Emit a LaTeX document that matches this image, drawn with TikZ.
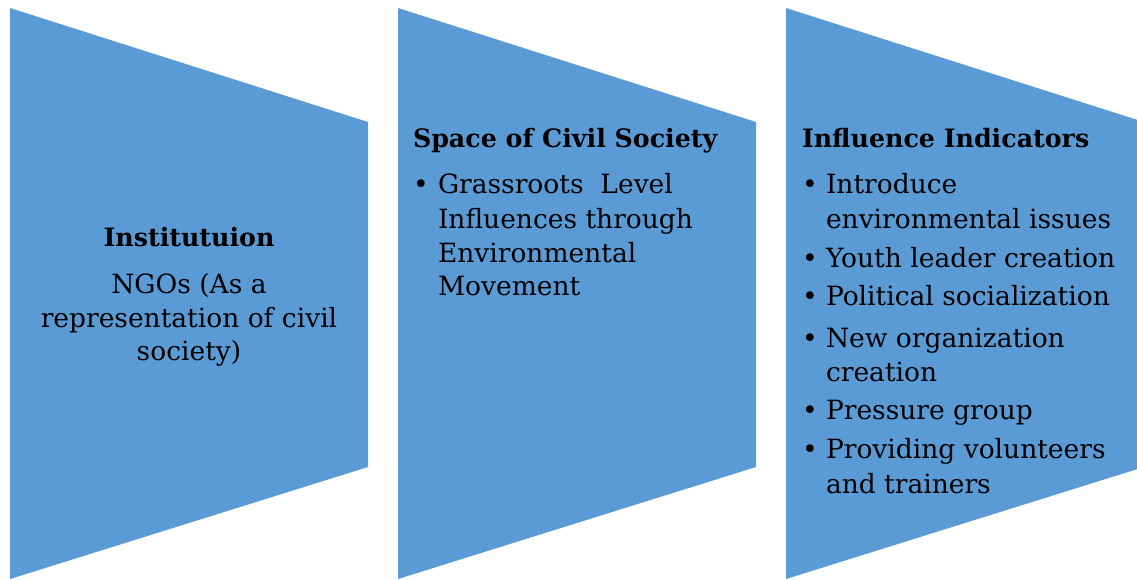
\documentclass[tikz,border=0pt]{standalone}
\usepackage{fontspec}
\setmainfont{DejaVu Serif}
\begin{document}
\begin{tikzpicture}[x=1pt,y=-1pt,
  panel/.style={fill=panelblue,draw=none},
  txt/.style={inner sep=0pt,outer sep=0pt,text=black,font=\fontsize{26.5}{34}\selectfont},
  head/.style={txt,font=\fontsize{25.3}{34}\selectfont\bfseries},
  ln/.style={txt,anchor=base west},
  dot/.style={txt,anchor=base}]
\definecolor{panelblue}{HTML}{5B9BD5}
\useasboundingbox (0,0) rectangle (1137,579);
% three chevron-like panels
\fill[panel] (10,8) -- (368,122) -- (368,467) -- (10,579) -- cycle;
\fill[panel] (398,8) -- (756,122) -- (756,467) -- (398,579) -- cycle;
\begin{scope}
\clip (0,0) rectangle (1137,579);
\fill[panel] (786,8) -- (1144,122) -- (1144,467) -- (786,579) -- cycle;
\end{scope}
% panel 1: institution
\node[head,anchor=base] (t1) at (189,246) {Institutuion};
\node[txt,anchor=base] (l1a) at (189,293) {NGOs (As a};
\node[txt,anchor=base] (l1b) at (189,327) {representation of civil};
\node[txt,anchor=base] (l1c) at (189,360) {society)};
% panel 2: space of civil society
\node[head,anchor=base west] (t2) at (413,147) {Space of Civil Society};
\node[dot] (b2a) at (421,193) {\textbullet};
\node[ln] (i2a1) at (438,193) {Grassroots\ \ Level};
\node[ln] (i2a2) at (438,228) {Influences through};
\node[ln] (i2a3) at (438,262) {Environmental};
\node[ln] (i2a4) at (438,295) {Movement};
% panel 3: influence indicators
\node[head,anchor=base west] (t3) at (802,147) {Influence Indicators};
\node[dot] (b3a) at (810,193) {\textbullet};
\node[ln] (i3a1) at (826,193) {Introduce};
\node[ln] (i3a2) at (826,228) {environmental issues};
\node[dot] (b3b) at (810,267) {\textbullet};
\node[ln] (i3b) at (826,267) {Youth leader creation};
\node[dot] (b3c) at (810,305) {\textbullet};
\node[ln] (i3c) at (826,305) {Political socialization};
\node[dot] (b3d) at (810,347) {\textbullet};
\node[ln] (i3d1) at (826,347) {New organization};
\node[ln] (i3d2) at (826,381) {creation};
\node[dot] (b3e) at (810,419) {\textbullet};
\node[ln] (i3e) at (826,419) {Pressure group};
\node[dot] (b3f) at (810,458) {\textbullet};
\node[ln] (i3f1) at (826,458) {Providing volunteers};
\node[ln] (i3f2) at (826,493) {and trainers};
\end{tikzpicture}
\end{document}
